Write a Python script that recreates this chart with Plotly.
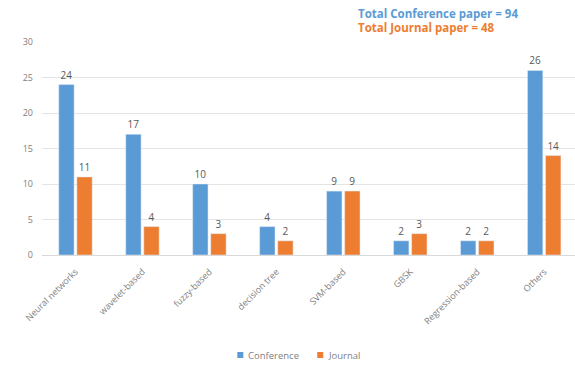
import plotly.graph_objects as go

categories = ["Neural networks", "wavelet-based", "fuzzy-based", "decision tree",
              "SVM-based", "GBSK", "Regression-based", "Others"]
conference = [24, 17, 10, 4, 9, 2, 2, 26]
journal = [11, 4, 3, 2, 9, 3, 2, 14]
y_ticks = [0, 5, 10, 15, 20, 25, 30]
totals_text = ["Total Conference paper = 94", "Total Journal paper = 48"]
series_names = ["Conference", "Journal"]

BLUE = "#5B9BD5"
ORANGE = "#ED7D31"
GREY = "#7F7F7F"
FONT = "Open Sans, Liberation Sans, sans-serif"

W, H = 575, 366
ML, MR, MT, MB = 41.5, 0, 42, 111
PW = W - ML - MR
PH = H - MT - MB


def px_x(x):
    return (x - ML) / PW


def px_y(y):
    return (H - MB - y) / PH


fig = go.Figure()
for name, vals, col in zip(series_names, [conference, journal], [BLUE, ORANGE]):
    fig.add_trace(go.Bar(name=name, x=categories, y=vals, marker_color=col,
                         text=vals, textposition="outside", cliponaxis=False,
                         textfont=dict(size=10, color="#595959", family=FONT)))

annotations = []
for i, (t, c) in enumerate(zip(totals_text, [BLUE, ORANGE])):
    annotations.append(dict(text="<b>" + t + "</b>", xref="paper", yref="paper",
                            x=px_x(356), y=px_y(13 + i * 15),
                            xanchor="left", yanchor="middle", showarrow=False,
                            font=dict(size=11.5, color=c, family=FONT)))

# manual legend (small squares close to text, as in the reference)
shapes = []
legend_x = [237, 317]
for name, col, lx in zip(series_names, [BLUE, ORANGE], legend_x):
    shapes.append(dict(type="rect", xref="paper", yref="paper",
                       x0=px_x(lx), x1=px_x(lx + 6), y0=px_y(358), y1=px_y(352),
                       fillcolor=col, line=dict(width=0)))
    annotations.append(dict(text=name, xref="paper", yref="paper",
                            x=px_x(lx + 9), y=px_y(355), xanchor="left", yanchor="middle",
                            showarrow=False, font=dict(size=9.5, color=GREY, family=FONT)))

fig.update_layout(
    width=W, height=H,
    margin=dict(l=ML, r=MR, t=MT, b=MB),
    paper_bgcolor="white", plot_bgcolor="white",
    barmode="group", bargap=0.46, bargroupgap=0.15,
    font=dict(family=FONT, size=9, color=GREY),
    showlegend=False,
    xaxis=dict(range=[-0.5, 7.46], tickangle=-45, showgrid=False,
               showline=True, linecolor="#D9D9D9", linewidth=1, ticks="",
               ticklabelstandoff=7,
               tickfont=dict(size=9, color=GREY)),
    yaxis=dict(range=[0, 30], tickvals=y_ticks, showgrid=True, gridcolor="#E4E4E4",
               zeroline=False, showline=False, ticks="", ticklabelstandoff=8,
               tickfont=dict(size=9, color=GREY)),
    annotations=annotations,
    shapes=shapes,
)

fig.write_html("out.html")
